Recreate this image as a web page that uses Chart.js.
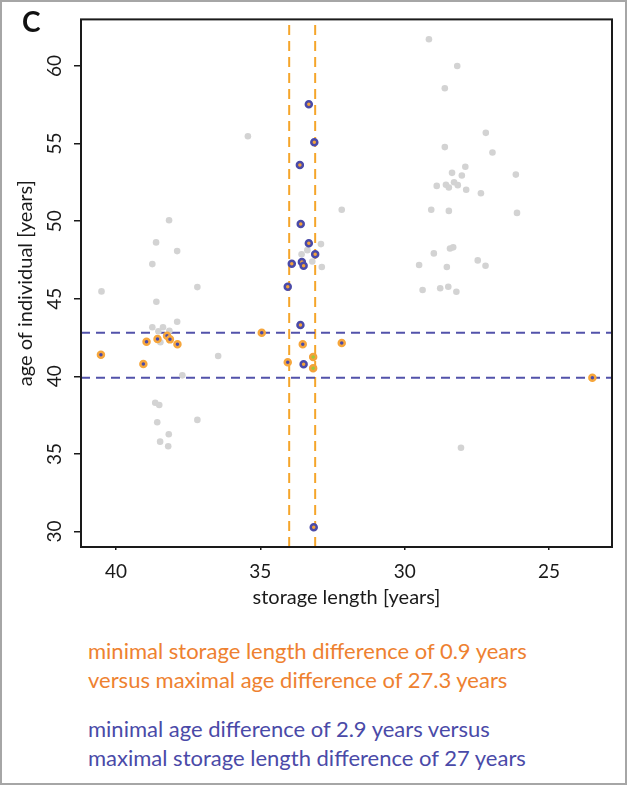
<!DOCTYPE html>
<html>
<head>
<meta charset="utf-8">
<script src="https://cdn.jsdelivr.net/npm/chart.js@4.4.1/dist/chart.umd.min.js"></script>
<style>
  body { margin: 0; background: #fff; }
  #page { position: relative; width: 627px; height: 785px; background: #fff; overflow: hidden; font-family: Lato, sans-serif; }
  #frame { position: absolute; left: 0; top: 0; right: 0; bottom: 0; border: 2px solid #a6a6a6; pointer-events: none; }
  #wrap { position: absolute; left: 0; top: 0; width: 627px; height: 615px; }
  #panel { position: absolute; left: 22px; top: 4px; font: bold 28px Lato, sans-serif; color: #111; }
  .note { position: absolute; left: 88px; font-size: 22px; line-height: 29px; }
  .orange { color: #ee8130; top: 636px; }
  .blue { color: #4a4aa8; top: 714px; }
</style>
</head>
<body>
<div id="page">
  <div id="wrap"><canvas id="scatterChart"></canvas></div>
  <div id="panel">C</div>
  <div class="note orange">minimal storage length difference of 0.9 years<br>versus maximal age difference of 27.3 years</div>
  <div class="note blue">minimal age difference of 2.9 years versus<br>maximal storage length difference of 27 years</div>
  <div id="frame"></div>
</div>
<script>
// axis setup
const xMin = 22.82, xMax = 41.21;
const yMin = 29, yMax = 63;
const xTicks = [40, 35, 30, 25];
const yTicks = [30, 35, 40, 45, 50, 55, 60];

// reference lines
const ageLines = [42.8, 39.9];
const storageLines = [34.0, 33.1];

// all other individuals (grey)
const greyStorage = [35.43, 32.18, 32.9, 33.57, 33.37, 32.87, 33.2, 37.88, 38.74, 40.5, 37.18, 38.6, 37.88, 38.74, 38.37,
  38.53, 38.15, 38.46, 36.46, 37.7, 38.64, 38.5, 38.57, 37.18, 38.17, 38.47, 38.19, 38.16, 38.61,
  29.16, 28.18, 28.61, 27.19, 28.61, 26.96, 27.9, 28.36, 28.02, 26.15, 28.89, 28.57, 28.47, 28.29, 28.16,
  27.87, 27.36, 29.08, 28.47, 26.11, 28.43, 28.32, 28.99, 29.5, 28.54, 27.47, 27.2, 29.38, 28.77, 28.49,
  28.21, 28.05];
const greyAge = [55.47, 50.73, 48.52, 47.87, 48.13, 47.04, 47.4, 48.07, 47.23, 45.47, 45.75, 44.8, 43.52, 43.16, 43.16,
  42.9, 42.94, 42.19, 41.31, 40.06, 38.3, 38.15, 37.04, 37.19, 36.27, 35.79, 35.49, 50.06, 48.63,
  61.72, 60.0, 58.56, 55.69, 54.77, 54.42, 53.5, 53.11, 52.94, 53.0, 52.27, 52.34, 52.17, 52.51, 52.32,
  52.02, 51.8, 50.73, 50.66, 50.53, 48.24, 48.31, 47.92, 47.17, 47.04, 47.47, 47.12, 45.56, 45.67, 45.77,
  45.45, 35.4];

// pairs with minimal storage length difference (blue ring)
const blueStorage = [33.32, 33.13, 33.63, 33.6, 33.32, 33.1, 33.91, 33.56, 33.5, 34.05, 33.61, 33.5, 33.15];
const blueAge = [57.53, 55.09, 53.61, 49.81, 48.58, 47.87, 47.25, 47.36, 47.12, 45.77, 43.3, 40.77, 30.28];

// pairs with minimal age difference (orange ring)
const orangeStorage = [34.95, 38.94, 38.56, 38.23, 38.13, 37.87, 33.53, 32.18, 40.52, 39.05, 34.05, 23.5];
const orangeAge = [42.8, 42.23, 42.4, 42.61, 42.38, 42.06, 42.06, 42.14, 41.39, 40.79, 40.9, 39.91];

// in both groups
const greenStorage = [33.17, 33.17];
const greenAge = [41.24, 40.52];

const toPoints = (xs, ys) => xs.map((x, i) => ({ x: x, y: ys[i] }));

const datasets = [
  { data: toPoints(greenStorage, greenAge), pointRadius: 3, pointBorderWidth: 2.5,
    pointBackgroundColor: '#9bc83c', pointBorderColor: '#f3a23a' },
  { data: toPoints(blueStorage, blueAge), pointRadius: 3, pointBorderWidth: 2.5,
    pointBackgroundColor: '#f3a23a', pointBorderColor: '#4a4aa8' },
  { data: toPoints(orangeStorage, orangeAge), pointRadius: 3, pointBorderWidth: 2.5,
    pointBackgroundColor: '#4a4aa8', pointBorderColor: '#f6a63c' },
  { data: toPoints(greyStorage, greyAge), pointRadius: 3.3, pointBorderWidth: 0,
    pointBackgroundColor: '#d3d3d3', pointBorderColor: '#d3d3d3' }
];

ageLines.forEach(a => datasets.push({
  data: [{ x: xMax, y: a }, { x: xMin, y: a }],
  showLine: true, pointRadius: 0, borderColor: '#5252aa', borderWidth: 2, borderDash: [9, 6]
}));
storageLines.forEach(s => datasets.push({
  data: [{ x: s, y: yMin }, { x: s, y: yMax }],
  showLine: true, pointRadius: 0, borderColor: '#f5a52a', borderWidth: 2, borderDash: [10, 6]
}));

const boxPlugin = {
  id: 'box',
  afterDraw(chart) {
    const { ctx, chartArea: a } = chart;
    ctx.save();
    ctx.strokeStyle = '#1a1a1a';
    ctx.lineWidth = 2;
    ctx.strokeRect(a.left, a.top, a.right - a.left, a.bottom - a.top);
    ctx.restore();
  }
};

const config = {
  type: 'scatter',
  data: { datasets: datasets },
  options: {
    responsive: true,
    maintainAspectRatio: false,
    animation: false,
    layout: { padding: { left: 0, top: 19, right: 15, bottom: 0 } },
    plugins: { legend: { display: false }, tooltip: { enabled: false } },
    scales: {
      x: {
        type: 'linear', reverse: true, min: xMin, max: xMax,
        afterBuildTicks: s => { s.ticks = xTicks.map(v => ({ value: v })); },
        afterFit: s => { s.height = 68; },
        border: { display: false },
        grid: { drawOnChartArea: false, drawTicks: true, tickLength: 3, color: '#1a1a1a', lineWidth: 1.5 },
        ticks: { color: '#1a1a1a', padding: 10, font: { family: 'Lato', size: 19 } },
        title: { display: true, text: 'storage length [years]', color: '#1a1a1a',
                 font: { family: 'Lato', size: 20 }, padding: { top: 0, bottom: 5 } }
      },
      y: {
        type: 'linear', min: yMin, max: yMax,
        afterBuildTicks: s => { s.ticks = yTicks.map(v => ({ value: v })); },
        afterFit: s => { s.width = 81; },
        border: { display: false },
        grid: { drawOnChartArea: false, drawTicks: true, tickLength: 7, color: '#1a1a1a', lineWidth: 1.5 },
        ticks: { color: '#1a1a1a', padding: 8, minRotation: 90, maxRotation: 90, crossAlign: 'center',
                 font: { family: 'Lato', size: 19 } },
        title: { display: true, text: 'age of individual [years]', color: '#1a1a1a',
                 font: { family: 'Lato', size: 20 }, padding: { top: 14, bottom: 0 } }
      }
    }
  },
  plugins: [boxPlugin]
};

const scatterChart = new Chart(document.getElementById('scatterChart'), config);
</script>
</body>
</html>
